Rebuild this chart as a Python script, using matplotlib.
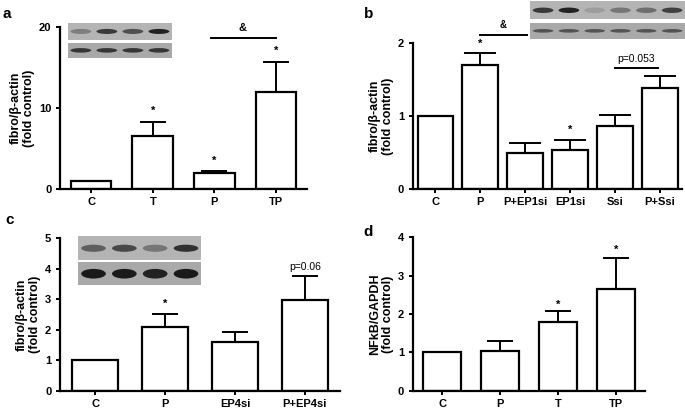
import numpy as np
import matplotlib
matplotlib.use('Agg')
import matplotlib.pyplot as plt
from matplotlib.patches import Ellipse

plt.rcParams['font.family'] = ['Liberation Sans', 'DejaVu Sans']
plt.rcParams['font.weight'] = 'bold'

# datos de cada panel ********************************************************
cat_a = ['C', 'T', 'P', 'TP']
val_a = [1.0, 6.55, 1.93, 11.95]
err_a = [0.0, 1.75, 0.25, 3.8]

cat_b = ['C', 'P', 'P+EP1si', 'EP1si', 'Ssi', 'P+Ssi']
val_b = [1.0, 1.70, 0.50, 0.54, 0.86, 1.38]
err_b = [0.0, 0.16, 0.13, 0.13, 0.15, 0.17]

cat_c = ['C', 'P', 'EP4si', 'P+EP4si']
val_c = [1.0, 2.10, 1.59, 2.97]
err_c = [0.0, 0.41, 0.33, 0.80]

cat_d = ['C', 'P', 'T', 'TP']
val_d = [1.0, 1.04, 1.78, 2.66]
err_d = [0.0, 0.26, 0.29, 0.81]

# intensidad de bandas del western (arriba / abajo)
blot_a = ([0.35, 0.8, 0.65, 0.95], [0.8, 0.8, 0.8, 0.8])
blot_b = ([0.8, 0.95, 0.15, 0.4, 0.45, 0.75], [0.6, 0.6, 0.6, 0.6, 0.6, 0.6])
blot_c = ([0.55, 0.7, 0.4, 0.85], [1.0, 1.0, 0.95, 1.0])
# ****************************************************************************

fs = 8
fig = plt.figure(figsize=(6.85, 4.11), dpi=100)


def panel(rect, cats, vals, errs, ylim, yticks, ylabel, width=0.66):
    ax = fig.add_axes(rect)
    x = np.arange(len(cats))
    ax.bar(x, vals, width=width, color='white', edgecolor='black', linewidth=1.6, zorder=2)
    for xi, v, e in zip(x, vals, errs):
        if e > 0:
            ax.errorbar(xi, v, yerr=[[0], [e]], fmt='none', ecolor='black',
                        elinewidth=1.4, capsize=width * 14, capthick=1.4, zorder=1)
    ax.set_xlim(-0.5, len(cats) - 0.5)
    ax.set_ylim(*ylim)
    ax.set_yticks(yticks)
    ax.set_xticks(x)
    ax.set_xticklabels(cats, fontsize=fs, fontweight='bold')
    ax.tick_params(axis='y', labelsize=fs, width=1.4, length=3)
    ax.tick_params(axis='x', width=1.4, length=3, pad=3)
    for t in ax.get_yticklabels():
        t.set_fontweight('bold')
    ax.spines['top'].set_visible(False)
    ax.spines['right'].set_visible(False)
    ax.spines['left'].set_linewidth(1.6)
    ax.spines['bottom'].set_linewidth(1.6)
    ax.set_ylabel(ylabel, fontsize=9, fontweight='bold', linespacing=1.1, labelpad=3)
    return ax


def blot(rect, top, bottom, dark):
    for k, (r, lanes) in enumerate(zip(rect, (top, bottom))):
        bx = fig.add_axes(r)
        bx.set_facecolor('#b4b4b4' if k == 0 else '#a9a9a9')
        n = len(lanes)
        for i, a in enumerate(lanes):
            bx.add_patch(Ellipse((i + 0.5, 0.5), 0.8, 0.3 if k == 0 else dark,
                                 color='#1a1a1a', alpha=a, lw=0))
        bx.set_xlim(0, n)
        bx.set_ylim(0, 1)
        bx.set_xticks([])
        bx.set_yticks([])
        for s in bx.spines.values():
            s.set_visible(False)


lab = 'fibro/β-actin\n(fold control)'

# a
ax_a = panel([0.088, 0.540, 0.360, 0.394], cat_a, val_a, err_a, (0, 20), [0, 10, 20], lab)
for xi, v, e in zip([1, 2, 3], val_a[1:], err_a[1:]):
    ax_a.text(xi, v + e + 0.7, '*', ha='center', va='bottom', fontsize=8)
ax_a.plot([1.95, 3.0], [18.6, 18.6], color='black', lw=1.4, clip_on=False)
ax_a.text(2.45, 19.3, '&', ha='center', va='bottom', fontsize=8)
blot([[0.099, 0.903, 0.152, 0.041], [0.099, 0.859, 0.152, 0.037]], blot_a[0], blot_a[1], 0.3)

# b
ax_b = panel([0.603, 0.540, 0.393, 0.355], cat_b, val_b, err_b, (0, 2), [0, 1, 2], lab, width=0.8)
ax_b.text(1, 1.92, '*', ha='center', va='bottom', fontsize=8)
ax_b.text(3, 0.75, '*', ha='center', va='bottom', fontsize=8)
ax_b.plot([1.0, 2.05], [2.11, 2.11], color='black', lw=1.4, clip_on=False)
ax_b.text(1.5, 2.18, '&', ha='center', va='bottom', fontsize=7)
ax_b.plot([4.0, 4.95], [1.66, 1.66], color='black', lw=1.4)
ax_b.text(4.48, 1.72, 'p=0.053', ha='center', va='bottom', fontsize=7.5, fontweight='normal')
blot([[0.774, 0.953, 0.226, 0.044], [0.774, 0.905, 0.226, 0.040]], blot_b[0], blot_b[1], 0.22)

# c
ax_c = panel([0.088, 0.049, 0.408, 0.372], cat_c, val_c, err_c, (0, 5), [0, 1, 2, 3, 4, 5], lab)
ax_c.text(1, 2.68, '*', ha='center', va='bottom', fontsize=8)
ax_c.text(3, 3.88, 'p=0.06', ha='center', va='bottom', fontsize=7.5, fontweight='normal')
blot([[0.114, 0.367, 0.180, 0.058], [0.114, 0.306, 0.180, 0.056]], blot_c[0], blot_c[1], 0.42)

# d
ax_d = panel([0.603, 0.049, 0.339, 0.374], cat_d, val_d, err_d, (0, 4), [0, 1, 2, 3, 4],
             'NFkB/GAPDH\n(fold control)')
ax_d.text(2, 2.1, '*', ha='center', va='bottom', fontsize=8)
ax_d.text(3, 3.55, '*', ha='center', va='bottom', fontsize=8)

# letras de panel
fig.text(0.004, 0.955, 'a', fontsize=11, fontweight='bold')
fig.text(0.532, 0.955, 'b', fontsize=11, fontweight='bold')
fig.text(0.008, 0.455, 'c', fontsize=11, fontweight='bold')
fig.text(0.530, 0.425, 'd', fontsize=11, fontweight='bold')

fig.savefig('out.png', dpi=100)
